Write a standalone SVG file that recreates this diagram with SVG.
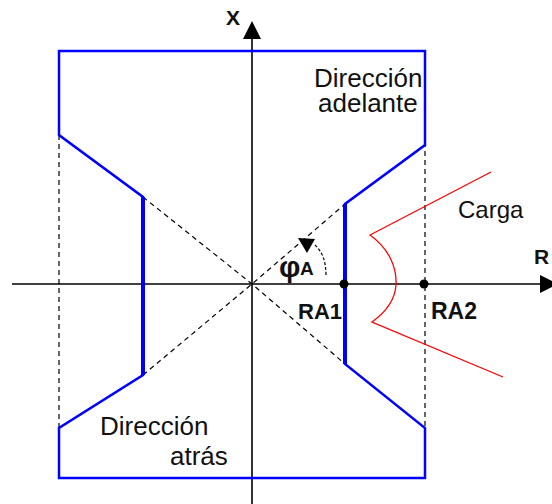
<svg xmlns="http://www.w3.org/2000/svg" width="552" height="504" viewBox="0 0 552 504">
<style>
.ax{stroke:#000;stroke-width:1.6;fill:none}
.dash{stroke:#000;stroke-width:1.2;stroke-dasharray:5,4;fill:none}
.blue{stroke:#0000ff;stroke-width:2.5;fill:none;stroke-linejoin:miter}
.thick{stroke:#0000ff;stroke-width:4;fill:none}
.red{stroke:#ff0000;stroke-width:1.3;fill:none}
.lbl{font-family:"Liberation Sans",Arial,sans-serif;fill:#111}
.b{font-weight:bold}
</style>
<rect width="552" height="504" fill="#fff"/>
<g id="connectors">
  <line class="dash" x1="59" y1="135" x2="59" y2="428"/>
  <line class="dash" x1="425" y1="133" x2="425" y2="428"/>
  <polyline class="dash" points="143,197 252,284 345,364"/>
  <polyline class="dash" points="143,375 252,284 345,204"/>
</g>
<g id="axes">
  <line class="ax" x1="12" y1="284" x2="542" y2="284"/>
  <polygon points="540,275 558,284 540,293" fill="#000"/>
  <line class="ax" x1="252" y1="38" x2="252" y2="504"/>
  <polygon points="252,21 243,39 261,39" fill="#000"/>
  <text class="lbl b" x="226" y="25" font-size="21">X</text>
  <text class="lbl b" x="534" y="264" font-size="21">R</text>
</g>
<g id="characteristic">
  <path class="blue" d="M425,145 L425,51 L59,51 L59,135 L143,197 L143,375 L59,428 L59,478 L425,478 L425,428 L345,364 L345,204 Z"/>
  <line class="thick" x1="143" y1="197" x2="143" y2="375"/>
  <line class="thick" x1="345" y1="204" x2="345" y2="364"/>
</g>
<g id="load">
  <path class="red" d="M491,172 L370,235 C388,248 397,266 396,285 C395,300 386,312 372,322 L503,377"/>
  <text class="lbl" x="458" y="218" font-size="24">Carga</text>
</g>
<g id="ra1">
  <circle cx="344" cy="284" r="4.5" fill="#000"/>
  <text class="lbl b" x="298" y="319" font-size="22">RA1</text>
</g>
<g id="ra2">
  <circle cx="424" cy="284" r="4.5" fill="#000"/>
  <text class="lbl b" x="431" y="319" font-size="23">RA2</text>
</g>
<g id="angle">
  <path d="M315,245 C322,252 326,260 326,276" fill="none" stroke="#000" stroke-width="1.2" stroke-dasharray="3,2"/>
  <polygon points="298,238 315,239 307,253" fill="#000"/>
  <text class="lbl b" x="279" y="277" font-size="30">φ</text>
  <text class="lbl b" x="300" y="275" font-size="19">A</text>
</g>
<g id="fwd">
  <text class="lbl" x="314" y="87" font-size="26">Dirección</text>
  <text class="lbl" x="318" y="112" font-size="26">adelante</text>
</g>
<g id="back">
  <text class="lbl" x="100" y="435" font-size="26">Dirección</text>
  <text class="lbl" x="170" y="465" font-size="26">atrás</text>
</g>
</svg>
